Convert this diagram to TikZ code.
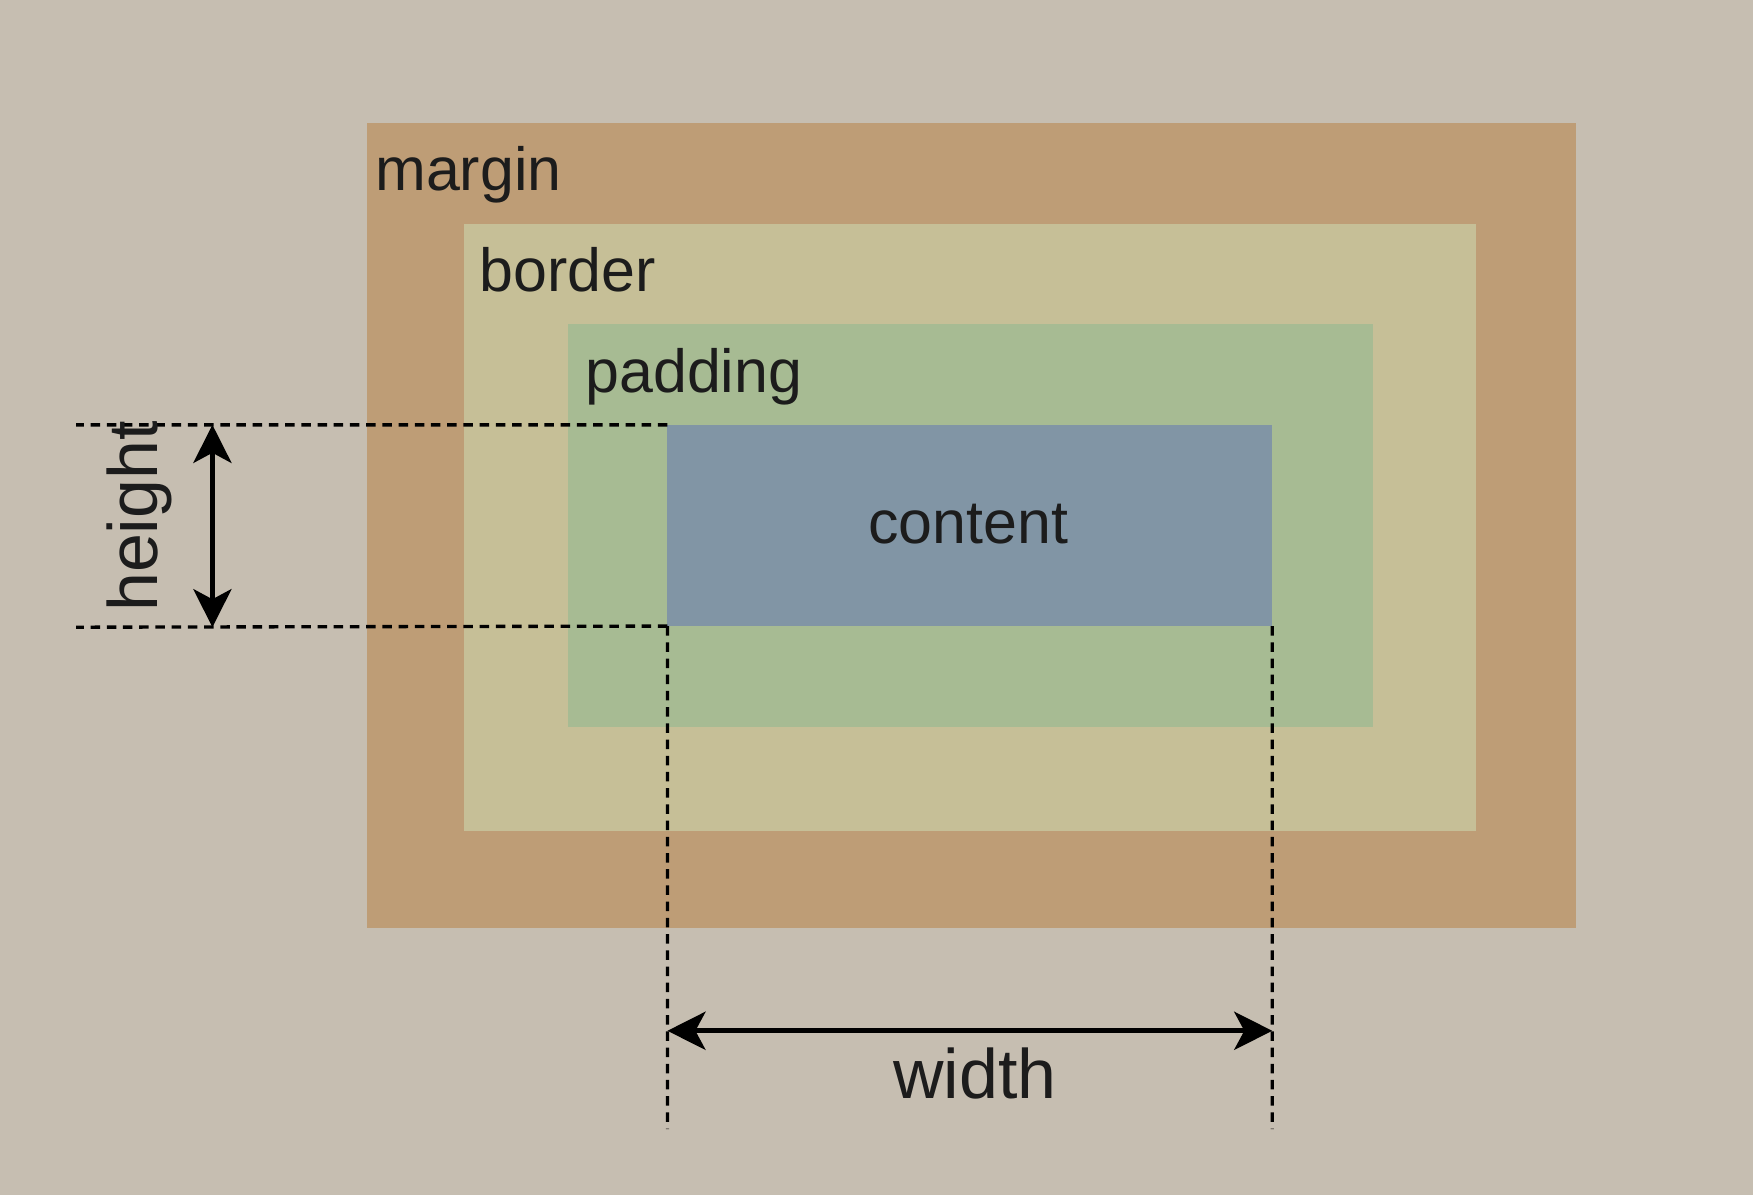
\documentclass[tikz,border=0pt]{standalone}
\usepackage{fontspec}
\setmainfont{Liberation Sans}
\usetikzlibrary{arrows.meta}
\definecolor{bgcol}{RGB}{198,190,177}
\definecolor{margincol}{RGB}{190,157,118}
\definecolor{bordercol}{RGB}{198,191,151}
\definecolor{paddingcol}{RGB}{167,187,147}
\definecolor{contentcol}{RGB}{129,149,165}
\definecolor{inkcol}{RGB}{28,28,28}
\tikzstyle{layer}    = [rectangle, inner sep=0pt, outer sep=0pt]
\tikzstyle{boxlabel} = [anchor=base west, inner sep=0pt, text=inkcol]
\tikzstyle{dimlabel} = [anchor=base, inner sep=0pt, text=inkcol, font=\fontsize{17.8}{20}\selectfont]
\tikzstyle{guide}    = [line width=0.85pt, dash pattern=on 0.85mm off 0.6mm, color=black]
\tikzstyle{measure}  = [line width=1.3pt, color=black,
  {Stealth[length=3.4mm, width=3.4mm, inset=0.9mm]}-{Stealth[length=3.4mm, width=3.4mm, inset=0.9mm]}]

\begin{document}
\begin{tikzpicture}[x=0.1mm, y=-0.1mm, font=\fontsize{15.5}{18}\selectfont]
\useasboundingbox (0,0) rectangle (1568,1069);
\fill[bgcol] (0,0) rectangle (1568,1069);
% nested boxes
\node[layer, fill=margincol,  minimum width=108.2mm, minimum height=72mm]   (margin)  at (869,470)   {};
\node[layer, fill=bordercol,  minimum width=90.5mm,  minimum height=54.3mm] (border)  at (867.5,471.5) {};
\node[layer, fill=paddingcol, minimum width=72mm,    minimum height=36mm]   (padding) at (868,470)   {};
\node[layer, fill=contentcol, minimum width=54.1mm,  minimum height=18mm]   (content) at (867.5,470) {};
\node[boxlabel] (marginlabel)  at (335,170) {margin};
\node[boxlabel] (borderlabel)  at (428,261) {border};
\node[boxlabel] (paddinglabel) at (523,351) {padding};
\node[anchor=base, inner sep=0pt, text=inkcol] (contentlabel) at (866,486) {content};
% guide lines
\coordinate (hleft1) at (68,380);
\coordinate (hleft2) at (68,561);
\coordinate (wdown1) at (597,1010);
\coordinate (wdown2) at (1138,1010);
\draw[guide] (content.north west) -- (hleft1);
\draw[guide] (content.south west) -- (hleft2);
\draw[guide] (content.south west) -- (wdown1);
\draw[guide] (content.south east) -- (wdown2);
% measures
\coordinate (htop) at (190,380);
\coordinate (hbot) at (190,561);
\coordinate (wleft) at (597,922);
\coordinate (wright) at (1138,922);
\draw[measure] (htop) -- (hbot);
\draw[measure] (wleft) -- (wright);
\node[dimlabel, rotate=90] (heightlabel) at (141,462) {height};
\node[dimlabel] (widthlabel) at (872,983) {width};
\end{tikzpicture}
\end{document}
